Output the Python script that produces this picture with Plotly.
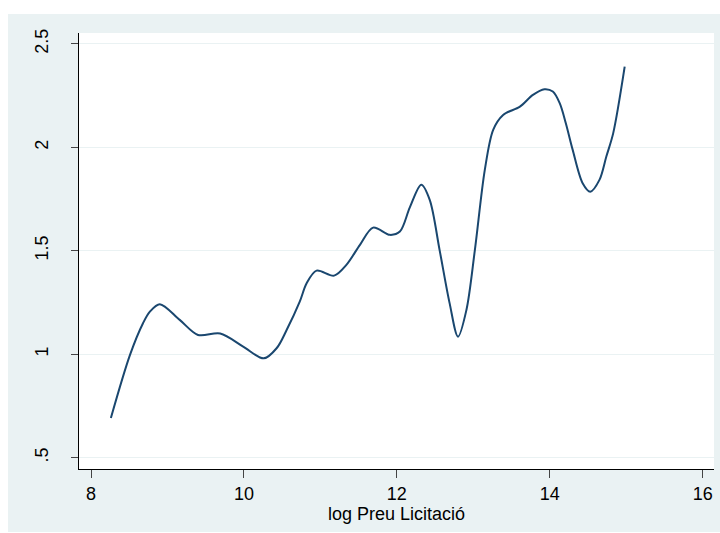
import plotly.graph_objects as go

# Smoothed relationship between log tender price and the outcome
log_price = [8.26, 8.51, 8.68, 8.77, 8.90, 9.16, 9.40, 9.69, 9.99, 10.26, 10.43, 10.56,
             10.73, 10.82, 10.95, 11.18, 11.34, 11.52, 11.69, 11.91, 12.04, 12.17, 12.32,
             12.43, 12.56, 12.69, 12.80, 12.91, 13.02, 13.15, 13.26, 13.39, 13.61,
             13.78, 13.93, 14.04, 14.13, 14.21, 14.30, 14.43, 14.53, 14.65, 14.74, 14.83, 14.98]
fitted = [0.692, 0.997, 1.15, 1.206, 1.242, 1.166, 1.093, 1.10, 1.037, 0.98, 1.03, 1.118,
          1.254, 1.343, 1.404, 1.38, 1.432, 1.53, 1.612, 1.577, 1.593, 1.71, 1.819,
          1.746, 1.502, 1.247, 1.085, 1.214, 1.502, 1.89, 2.085, 2.157, 2.197,
          2.254, 2.281, 2.27, 2.214, 2.117, 1.988, 1.827, 1.786, 1.843, 1.956, 2.069, 2.39]

x_ticks = [8, 10, 12, 14, 16]
y_ticks = [0.5, 1, 1.5, 2, 2.5]
y_tick_text = [".5", "1", "1.5", "2", "2.5"]

PANEL = "#EAF2F3"
LINE = "#1A476F"
FONT = "Liberation Sans, Arial, sans-serif"

W, H = 720, 533
L, R, T, B = 79, 6, 33, 64

fig = go.Figure()
fig.add_trace(go.Scatter(
    x=log_price, y=fitted, mode="lines",
    line=dict(color=LINE, width=2, shape="spline", smoothing=0.9),
    showlegend=False, hoverinfo="skip",
))

pw = W - L - R
ph = H - T - B

def px_to_paper_x(px):
    return (px - L) / pw

def px_to_paper_y(py):
    return (H - B - py) / ph

# white border strips around the shaded panel
strips = [
    (0, 0, 8, H),      # left
    (0, 0, W, 14),     # top
    (0, 532, W, H),    # bottom
]
shapes = []
for x0, y0, x1, y1 in strips:
    shapes.append(dict(
        type="rect", xref="paper", yref="paper",
        x0=px_to_paper_x(x0), x1=px_to_paper_x(x1),
        y0=px_to_paper_y(y1), y1=px_to_paper_y(y0),
        fillcolor="white", line=dict(width=0), layer="above",
    ))

fig.update_layout(
    width=W, height=H,
    margin=dict(l=L, r=R, t=T, b=B, pad=0),
    paper_bgcolor=PANEL, plot_bgcolor="white",
    font=dict(family=FONT, size=18, color="black"),
    shapes=shapes,
    xaxis=dict(
        range=[7.843, 16.148], tickvals=x_ticks, ticks="outside", ticklen=8,
        tickcolor="#444", tickwidth=1, showline=True, linecolor="black", linewidth=1,
        showgrid=False, zeroline=False,
        title=dict(text="log Preu Licitació", standoff=0, font=dict(size=18)),
    ),
    yaxis=dict(
        range=[0.445, 2.553], tickvals=y_ticks, ticktext=y_tick_text, tickangle=-90,
        ticks="outside", ticklen=7, tickcolor="#444", tickwidth=1,
        showline=True, linecolor="black", linewidth=1,
        showgrid=True, gridcolor=PANEL, gridwidth=1, zeroline=False,
        ticklabelstandoff=16,
    ),
)

fig.write_html("out.html")
